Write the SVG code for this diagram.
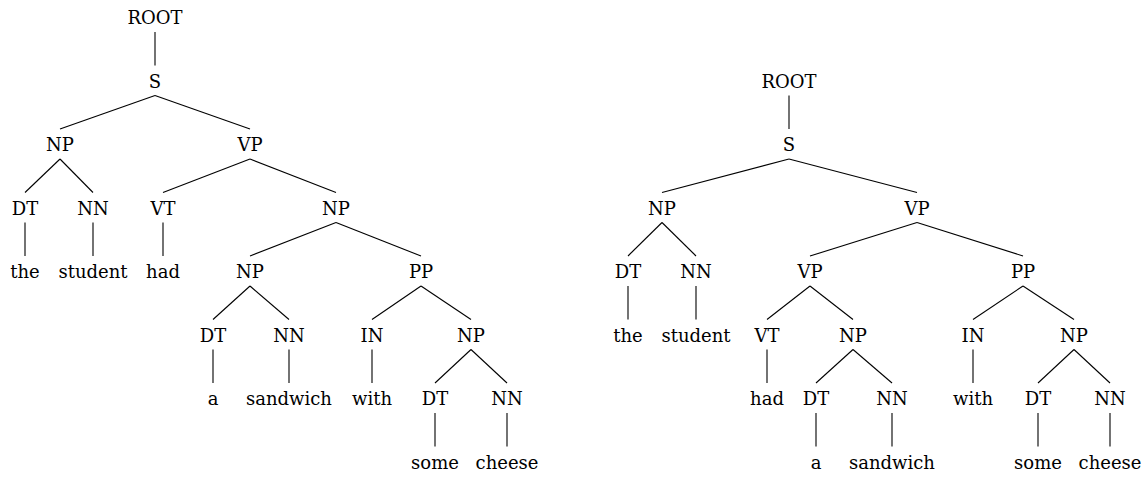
<svg xmlns="http://www.w3.org/2000/svg" width="1146" height="477" viewBox="0 0 1146 477">
<style>
text{font-family:"DejaVu Serif","Liberation Serif",serif;font-size:18px;fill:#000;text-anchor:middle}
#edges line{stroke:#000;stroke-width:1.1}
</style>
<rect width="1146" height="477" fill="#fff"/>
<g id="edges">
<line x1="155" y1="32" x2="155" y2="65.5"/>
<line x1="155" y1="95.5" x2="60" y2="129"/>
<line x1="155" y1="95.5" x2="250" y2="129"/>
<line x1="60" y1="159" x2="25" y2="192.5"/>
<line x1="60" y1="159" x2="93" y2="192.5"/>
<line x1="250" y1="159" x2="163" y2="192.5"/>
<line x1="250" y1="159" x2="336" y2="192.5"/>
<line x1="25" y1="222.5" x2="25" y2="256"/>
<line x1="93" y1="222.5" x2="93" y2="256"/>
<line x1="163" y1="222.5" x2="163" y2="256"/>
<line x1="336" y1="222.5" x2="250" y2="256"/>
<line x1="336" y1="222.5" x2="421" y2="256"/>
<line x1="250" y1="286" x2="213" y2="319.5"/>
<line x1="250" y1="286" x2="289" y2="319.5"/>
<line x1="421" y1="286" x2="372" y2="319.5"/>
<line x1="421" y1="286" x2="471" y2="319.5"/>
<line x1="213" y1="349.5" x2="213" y2="383"/>
<line x1="289" y1="349.5" x2="289" y2="383"/>
<line x1="372" y1="349.5" x2="372" y2="383"/>
<line x1="471" y1="349.5" x2="435" y2="383"/>
<line x1="471" y1="349.5" x2="507" y2="383"/>
<line x1="435" y1="413" x2="435" y2="446.5"/>
<line x1="507" y1="413" x2="507" y2="446.5"/>
<line x1="789" y1="95.5" x2="789" y2="129"/>
<line x1="789" y1="159" x2="662" y2="192.5"/>
<line x1="789" y1="159" x2="917" y2="192.5"/>
<line x1="662" y1="222.5" x2="628" y2="256"/>
<line x1="662" y1="222.5" x2="696" y2="256"/>
<line x1="917" y1="222.5" x2="810" y2="256"/>
<line x1="917" y1="222.5" x2="1023" y2="256"/>
<line x1="628" y1="286" x2="628" y2="319.5"/>
<line x1="696" y1="286" x2="696" y2="319.5"/>
<line x1="810" y1="286" x2="767" y2="319.5"/>
<line x1="810" y1="286" x2="853" y2="319.5"/>
<line x1="1023" y1="286" x2="973" y2="319.5"/>
<line x1="1023" y1="286" x2="1074" y2="319.5"/>
<line x1="767" y1="349.5" x2="767" y2="383"/>
<line x1="853" y1="349.5" x2="816" y2="383"/>
<line x1="853" y1="349.5" x2="892" y2="383"/>
<line x1="973" y1="349.5" x2="973" y2="383"/>
<line x1="1074" y1="349.5" x2="1038" y2="383"/>
<line x1="1074" y1="349.5" x2="1110" y2="383"/>
<line x1="816" y1="413" x2="816" y2="446.5"/>
<line x1="892" y1="413" x2="892" y2="446.5"/>
<line x1="1038" y1="413" x2="1038" y2="446.5"/>
<line x1="1110" y1="413" x2="1110" y2="446.5"/>
</g>
<g id="left-tree">
<g id="L-root"><text x="155" y="24">ROOT</text></g>
<g id="L-s"><text x="155" y="87.5">S</text></g>
<g id="L-np1"><text x="60" y="151">NP</text></g>
<g id="L-vp1"><text x="250" y="151">VP</text></g>
<g id="L-dt1"><text x="25" y="214.5">DT</text></g>
<g id="L-nn1"><text x="93" y="214.5">NN</text></g>
<g id="L-vt"><text x="163" y="214.5">VT</text></g>
<g id="L-np2"><text x="336" y="214.5">NP</text></g>
<g id="L-the"><text x="25" y="278">the</text></g>
<g id="L-student"><text x="93" y="278">student</text></g>
<g id="L-had"><text x="163" y="278">had</text></g>
<g id="L-np3"><text x="250" y="278">NP</text></g>
<g id="L-pp"><text x="421" y="278">PP</text></g>
<g id="L-dt2"><text x="213" y="341.5">DT</text></g>
<g id="L-nn2"><text x="289" y="341.5">NN</text></g>
<g id="L-in"><text x="372" y="341.5">IN</text></g>
<g id="L-np4"><text x="471" y="341.5">NP</text></g>
<g id="L-a"><text x="213" y="405">a</text></g>
<g id="L-sandwich"><text x="289" y="405">sandwich</text></g>
<g id="L-with"><text x="372" y="405">with</text></g>
<g id="L-dt3"><text x="435" y="405">DT</text></g>
<g id="L-nn3"><text x="507" y="405">NN</text></g>
<g id="L-some"><text x="435" y="468.5">some</text></g>
<g id="L-cheese"><text x="507" y="468.5">cheese</text></g>
</g>
<g id="right-tree">
<g id="R-root"><text x="789" y="87.5">ROOT</text></g>
<g id="R-s"><text x="789" y="151">S</text></g>
<g id="R-np1"><text x="662" y="214.5">NP</text></g>
<g id="R-vp1"><text x="917" y="214.5">VP</text></g>
<g id="R-dt1"><text x="628" y="278">DT</text></g>
<g id="R-nn1"><text x="696" y="278">NN</text></g>
<g id="R-vp2"><text x="810" y="278">VP</text></g>
<g id="R-pp"><text x="1023" y="278">PP</text></g>
<g id="R-the"><text x="628" y="341.5">the</text></g>
<g id="R-student"><text x="696" y="341.5">student</text></g>
<g id="R-vt"><text x="767" y="341.5">VT</text></g>
<g id="R-np2"><text x="853" y="341.5">NP</text></g>
<g id="R-in"><text x="973" y="341.5">IN</text></g>
<g id="R-np3"><text x="1074" y="341.5">NP</text></g>
<g id="R-had"><text x="767" y="405">had</text></g>
<g id="R-dt2"><text x="816" y="405">DT</text></g>
<g id="R-nn2"><text x="892" y="405">NN</text></g>
<g id="R-with"><text x="973" y="405">with</text></g>
<g id="R-dt3"><text x="1038" y="405">DT</text></g>
<g id="R-nn3"><text x="1110" y="405">NN</text></g>
<g id="R-a"><text x="816" y="468.5">a</text></g>
<g id="R-sandwich"><text x="892" y="468.5">sandwich</text></g>
<g id="R-some"><text x="1038" y="468.5">some</text></g>
<g id="R-cheese"><text x="1110" y="468.5">cheese</text></g>
</g>
</svg>
